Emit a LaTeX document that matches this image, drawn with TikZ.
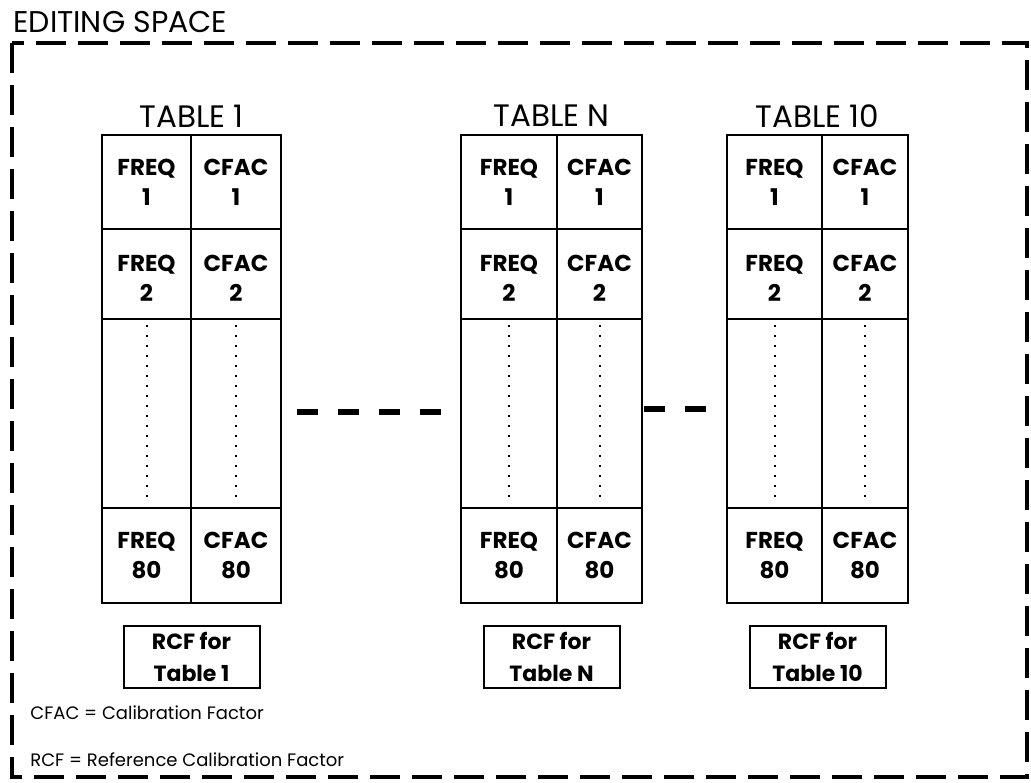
\documentclass[tikz,border=0pt]{standalone}
\usepackage{fontspec}
\setmainfont{Poppins}

\begin{document}
\begin{tikzpicture}[x=0.5pt,y=-0.5pt,
  frame/.style={line width=2.4pt,dash pattern=on 15pt off 6pt},
  tabline/.style={line width=0.7pt},
  rowline/.style={line width=1.3pt},
  dotline/.style={line width=1pt,dash pattern=on 0.9pt off 4.1pt},
  gapdash/.style={line width=3pt,dash pattern=on 10.5pt off 10pt},
  cell/.style={font=\fontsize{11.5}{15}\selectfont\bfseries,align=center,inner sep=0pt},
  ttl/.style={font=\fontsize{15.5}{18}\selectfont,inner sep=0pt},
  rcfbox/.style={draw,line width=1pt,minimum width=68pt,minimum height=31pt,
    font=\fontsize{11}{16}\selectfont\bfseries,align=center},
  legend/.style={font=\fontsize{9}{11}\selectfont,anchor=west,inner sep=0pt}]
\useasboundingbox (0,0) rectangle (1031,782);

% editing space
\node[anchor=base west,inner sep=0pt,font=\fontsize{15}{18}\selectfont] (title) at (13,32) {EDITING SPACE};
\draw[frame] (12,43) rectangle (1027,777);

% the three tables
\foreach \l/\m/\r/\t/\rcf/\id in {102/191/281/TABLE 1/Table 1/a,
    461/557/642/TABLE N/Table N/n, 727/822/908/TABLE 10/Table 10/z}{
  \draw[tabline] (\l,135) rectangle (\r,603);
  \draw[tabline] (\m,135) -- (\m,603);
  \draw[rowline] (\l,229) -- (\r,229);
  \draw[rowline] (\l,319) -- (\r,319);
  \draw[rowline] (\l,508) -- (\r,508);
  \draw[dotline] ({(\l+\m)/2},325) -- ({(\l+\m)/2},504);
  \draw[dotline] ({(\m+\r)/2},325) -- ({(\m+\r)/2},504);
  \node[ttl] (t\id) at ({(\l+\r)/2},116) {\t};
  \node[cell] (f1\id) at ({(\l+\m)/2},182) {FREQ\\1};
  \node[cell] (c1\id) at ({(\m+\r)/2},182) {CFAC\\1};
  \node[cell] (f2\id) at ({(\l+\m)/2},278) {FREQ\\2};
  \node[cell] (c2\id) at ({(\m+\r)/2},278) {CFAC\\2};
  \node[cell] (f80\id) at ({(\l+\m)/2},555) {FREQ\\80};
  \node[cell] (c80\id) at ({(\m+\r)/2},555) {CFAC\\80};
  \node[rcfbox] (r\id) at ({(\l+\r)/2},657) {RCF for\\\rcf};
}

% dashes between tables
\coordinate (d1a) at (297,412);
\coordinate (d1b) at (444,412);
\coordinate (d2a) at (644,409);
\coordinate (d2b) at (707,409);
\draw[gapdash] (d1a) -- (d1b);
\draw[gapdash] (d2a) -- (d2b);

% key
\node[legend] (k1) at (30,713) {CFAC = Calibration Factor};
\node[legend] (k2) at (30,760) {RCF = Reference Calibration Factor};
\end{tikzpicture}
\end{document}
